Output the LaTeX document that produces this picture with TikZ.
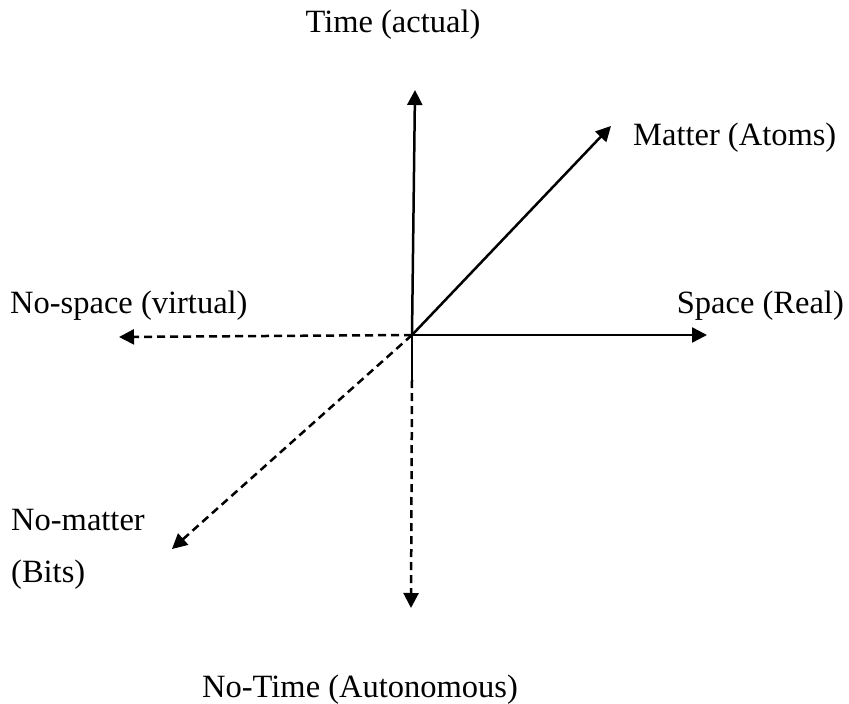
\documentclass[tikz,border=0pt]{standalone}
\usepackage{fontspec}
\setmainfont{Liberation Serif}
\usetikzlibrary{arrows.meta}
\begin{document}
\begin{tikzpicture}[x=1pt,y=-1pt,
  lbl/.style={inner sep=0pt,font=\fontsize{32.5}{39}\selectfont},
  axis/.style={line width=2.5pt,-{Triangle[length=15pt,width=15pt]}},
  dashaxis/.style={axis,dash pattern=on 8pt off 5pt}]
\useasboundingbox (0,0) rectangle (849,704);
\coordinate (o) at (412,335);
\coordinate (t) at (415,90);
\coordinate (m) at (611,126);
\coordinate (s) at (707,335);
\coordinate (ns) at (119,337);
\coordinate (s2) at (412,380);
\coordinate (nt) at (411,608);
\coordinate (nm) at (172,549);
\node[lbl,anchor=base] (lt) at (393,32) {Time (actual)};
\node[lbl,anchor=base west] (lm) at (633,145) {Matter (Atoms)};
\node[lbl,anchor=base west] (lns) at (10,313) {No-space (virtual)};
\node[lbl,anchor=base east] (ls) at (844,313) {Space (Real)};
\node[lbl,anchor=base west] (lnm) at (11,530) {No-matter};
\node[lbl,anchor=base west] (lb) at (11,582) {(Bits)};
\node[lbl,anchor=base west] (lnt) at (202,697) {No-Time (Autonomous)};
\draw[axis] (o) -- (t);
\draw[axis] (o) -- (m);
\draw[axis] (o) -- (s);
\draw[dashaxis] (o) -- (ns);
\draw[dashaxis] (o) -- (nm);
\draw[line width=2.5pt] (o) -- (s2);
\draw[dashaxis] (s2) -- (nt);
\end{tikzpicture}
\end{document}
